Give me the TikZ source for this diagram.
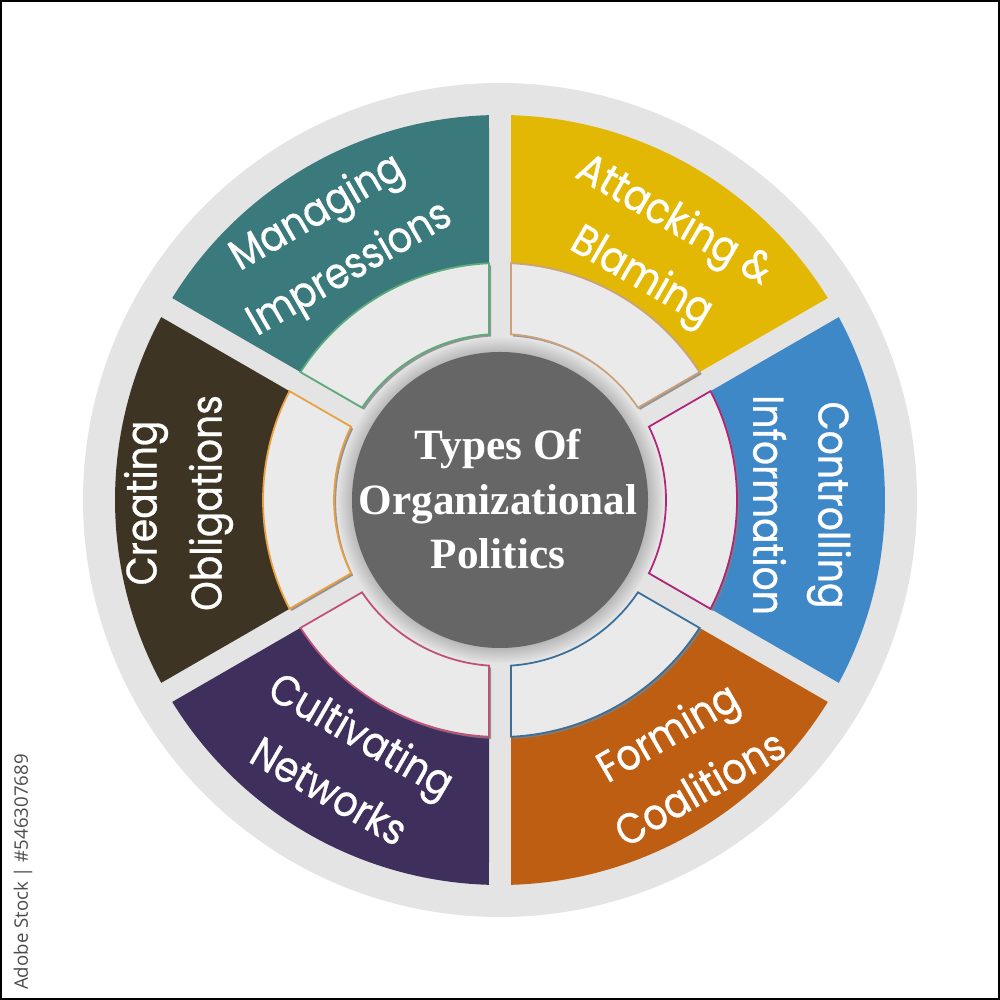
\documentclass[tikz,border=0pt]{standalone}
\usepackage{fontspec}
\usepackage{tikz}
\usetikzlibrary{shadows}
\setmainfont{Liberation Serif}
\newfontfamily\segfont[FakeStretch=0.88, FakeBold=0.7]{Poppins}
\newfontfamily\tagfont{Open Sans}
\definecolor{ringGrey}{HTML}{E4E4E4}
\definecolor{pieceGrey}{HTML}{EAEAEA}
\definecolor{hubGrey}{HTML}{666666}
\definecolor{polTeal}{HTML}{3B7A7C}
\definecolor{polGold}{HTML}{E3B805}
\definecolor{polBlue}{HTML}{3F88C8}
\definecolor{polRust}{HTML}{BD5E12}
\definecolor{polPlum}{HTML}{3F2F5C}
\definecolor{polBrown}{HTML}{3D3423}
\definecolor{edgeGreen}{HTML}{5DAA7A}
\definecolor{edgeTan}{HTML}{C9A27A}
\definecolor{edgeMagenta}{HTML}{B0257A}
\definecolor{edgeSteel}{HTML}{3A6F9A}
\definecolor{edgePink}{HTML}{C0507A}
\definecolor{edgeAmber}{HTML}{E8A040}
% one piece of the ring: mid angle, inner radius, outer radius, style
\newcommand{\ringpiece}[4]{%
  \pgfmathsetmacro{\offOut}{asin(0.11/#3)}%
  \pgfmathsetmacro{\offIn}{asin(0.11/#2)}%
  \path[#4] ({#1-30+\offOut}:#3) arc[start angle={#1-30+\offOut}, end angle={#1+30-\offOut}, radius=#3]
    -- ({#1+30-\offIn}:#2) arc[start angle={#1+30-\offIn}, end angle={#1-30+\offIn}, radius=#2] -- cycle;}

\begin{document}
\begin{tikzpicture}[
    seglabel/.style={text=white, align=center, inner sep=0pt, font=\segfont\fontsize{12.2pt}{18.5pt}\selectfont},
    hub/.style={circle, fill=hubGrey, minimum size=2.96cm, inner sep=0pt,
        circular drop shadow={shadow xshift=0pt, shadow yshift=0pt, shadow scale=1.1, opacity=0.7}},
    hubtext/.style={text=white, align=center, inner sep=0pt, font=\bfseries\fontsize{12.3pt}{15.4pt}\selectfont},
    outerpiece/.style={fill=#1},
    innerpiece/.style={fill=pieceGrey, draw=#1, line width=0.5pt,
        drop shadow={shadow xshift=0.6pt, shadow yshift=-0.6pt, opacity=0.8}},
    tagtext/.style={text=black!70, inner sep=0pt, font=\tagfont\fontsize{5.3pt}{6pt}\selectfont}
]
\useasboundingbox (-5,-5) rectangle (5,5);
\draw[line width=0.6pt] (-4.99,-4.99) rectangle (4.99,4.99);

% grey ring behind everything
\fill[ringGrey] (0,0) circle (4.17);

% coloured outer pieces
\ringpiece{120}{2.37}{3.85}{outerpiece=polTeal}
\ringpiece{60}{2.37}{3.85}{outerpiece=polGold}
\ringpiece{0}{2.37}{3.85}{outerpiece=polBlue}
\ringpiece{-60}{2.37}{3.85}{outerpiece=polRust}
\ringpiece{-120}{2.37}{3.85}{outerpiece=polPlum}
\ringpiece{180}{2.37}{3.85}{outerpiece=polBrown}

% light inner pieces
\ringpiece{120}{1.66}{2.37}{innerpiece=edgeGreen}
\ringpiece{60}{1.66}{2.37}{innerpiece=edgeTan}
\ringpiece{0}{1.66}{2.37}{innerpiece=edgeMagenta}
\ringpiece{-60}{1.66}{2.37}{innerpiece=edgeSteel}
\ringpiece{-120}{1.66}{2.37}{innerpiece=edgePink}
\ringpiece{180}{1.66}{2.37}{innerpiece=edgeAmber}

% centre
\node[hub] (hub) at (0,0) {};
\node[hubtext] (title) at (-0.02,0.01) {Types Of\\Organizational\\Politics};

% labels
\node[seglabel, rotate=30] (impressions) at (-1.66,2.58) {Managing\\Impressions};
\node[seglabel, rotate=-30] (blaming) at (1.57,2.50) {Attacking \&\\Blaming};
\node[seglabel, rotate=-90] (information) at (3.02,-0.05) {Controlling\\Information};
\node[seglabel, rotate=30] (coalitions) at (1.83,-2.59) {Forming\\Coalitions};
\node[seglabel, rotate=-30] (networks) at (-1.54,-2.62) {Cultivating\\Networks};
\node[seglabel, rotate=90] (obligations) at (-3.215,-0.03) {Creating\\Obligations};

\node[tagtext, rotate=90] (stockid) at (-4.77,-3.72) {Adobe Stock | \#546307689};

\end{tikzpicture}
\end{document}
